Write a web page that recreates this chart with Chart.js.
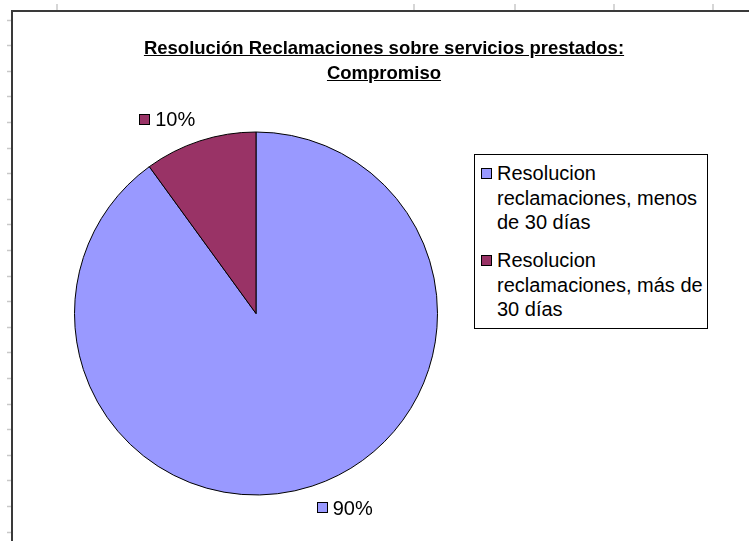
<!DOCTYPE html>
<html><head><meta charset="utf-8">
<script src="https://cdn.jsdelivr.net/npm/chart.js@4/dist/chart.umd.min.js"></script>
<style>
html,body{margin:0;padding:0;background:#fff;}
#wrap{position:relative;width:749px;height:541px;overflow:hidden;font-family:"Liberation Sans",Arial,sans-serif;}
#c{position:absolute;left:0;top:0;}
#title{position:absolute;left:134px;width:500px;top:35px;text-align:center;font-weight:bold;font-size:18.5px;line-height:25px;text-decoration:underline;color:#000;}
#legend{position:absolute;left:474px;top:154px;width:232px;height:173px;border:1px solid #000;background:#fff;}
.item{position:relative;margin-left:0;padding-left:22px;font-size:20px;line-height:24.5px;width:210px;color:#000;}
.item + .item{margin-top:13.5px;}
#legend .item:first-child{margin-top:6px;}
.sw{position:absolute;left:6px;top:7px;width:9px;height:9px;border:1px solid #000;}
</style>
</head><body>
<div id="wrap">
<canvas id="c" width="749" height="541"></canvas>
<div id="title"></div>
<div id="legend"></div>
</div>
<script>
// ---- data ----
const titleLines = ["Resolución Reclamaciones sobre servicios prestados:", "Compromiso"];
const categories = ["Resolucion reclamaciones, menos de 30 días", "Resolucion reclamaciones, más de 30 días"];
const values = [90, 10];
const sliceColors = ["#9999FF", "#993366"];

// ---- title & legend (HTML text) ----
document.getElementById('title').innerHTML = titleLines.join('<br>');
const lg = document.getElementById('legend');
categories.forEach((cat, i) => {
  const d = document.createElement('div');
  d.className = 'item';
  const s = document.createElement('span');
  s.className = 'sw';
  s.style.background = sliceColors[i];
  d.appendChild(s);
  d.appendChild(document.createTextNode(cat));
  lg.appendChild(d);
});

// ---- spreadsheet frame decoration ----
const framePlugin = {
  id: 'frame',
  beforeDraw(chart) {
    const ctx = chart.ctx;
    ctx.save();
    ctx.fillStyle = '#fff';
    ctx.fillRect(0, 0, chart.width, chart.height);
    ctx.strokeStyle = '#c8c8c8';
    ctx.lineWidth = 1.5;
    [57, 414, 515, 614, 713].forEach(x => {
      ctx.beginPath(); ctx.moveTo(x, 4); ctx.lineTo(x, 10); ctx.stroke();
    });
    for (let y = 19.5; y < chart.height; y += 25.6) {
      ctx.beginPath(); ctx.moveTo(7, Math.round(y) + 0.5); ctx.lineTo(11, Math.round(y) + 0.5); ctx.stroke();
    }
    ctx.strokeStyle = '#3a3a3a';
    ctx.lineWidth = 2;
    ctx.beginPath();
    ctx.moveTo(12, chart.height);
    ctx.lineTo(12, 11);
    ctx.lineTo(chart.width, 11);
    ctx.stroke();
    ctx.restore();
  }
};

// ---- outside-end data labels with colour key ----
const labelPlugin = {
  id: 'pctLabels',
  afterDatasetsDraw(chart) {
    const ctx = chart.ctx;
    const meta = chart.getDatasetMeta(0);
    const total = values.reduce((a, b) => a + b, 0);
    ctx.save();
    ctx.font = '20px "Liberation Sans", Arial, sans-serif';
    ctx.textBaseline = 'alphabetic';
    meta.data.forEach((arc, i) => {
      const p = arc.getProps(['x', 'y', 'startAngle', 'endAngle', 'outerRadius'], true);
      const mid = (p.startAngle + p.endAngle) / 2;
      const r = p.outerRadius + 15;
      const ax = p.x + Math.cos(mid) * r;
      const ay = p.y + Math.sin(mid) * r;
      const txt = Math.round(values[i] / total * 100) + '%';
      const tw = ctx.measureText(txt).width;
      const sq = 11, gap = 5, h = 15;
      const bw = sq + gap + tw;
      const left = Math.cos(mid) < 0 ? ax - bw : ax;
      const top = Math.sin(mid) < 0 ? ay - h : ay;
      const cy = top + h / 2;
      ctx.fillStyle = sliceColors[i];
      ctx.fillRect(Math.round(left) + 0.5, Math.round(cy - sq / 2) + 0.5, sq - 1, sq - 1);
      ctx.strokeStyle = '#000';
      ctx.lineWidth = 1;
      ctx.strokeRect(Math.round(left) + 0.5, Math.round(cy - sq / 2) + 0.5, sq - 1, sq - 1);
      ctx.fillStyle = '#000';
      ctx.fillText(txt, left + sq + gap, cy + 7.2);
    });
    ctx.restore();
  }
};

new Chart(document.getElementById('c'), {
  type: 'pie',
  data: {
    labels: categories,
    datasets: [{
      data: values,
      backgroundColor: sliceColors,
      borderColor: '#000',
      borderWidth: 1
    }]
  },
  options: {
    responsive: false,
    animation: false,
    layout: { padding: { left: 74, top: 131, right: 311, bottom: 45 } },
    plugins: {
      legend: { display: false },
      title: { display: false },
      tooltip: { enabled: false }
    }
  },
  plugins: [framePlugin, labelPlugin]
});
</script>
</body></html>
